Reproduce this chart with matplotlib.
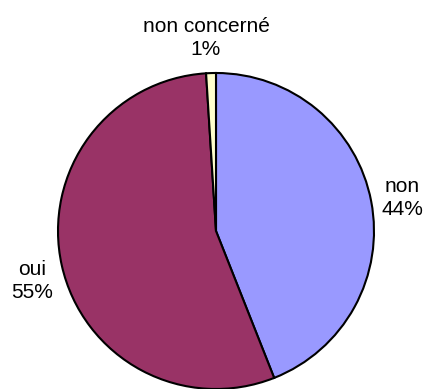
import matplotlib.pyplot as plt

plt.rcParams['font.family'] = ['Liberation Sans', 'DejaVu Sans']

labels = ['non', 'oui', 'non concerné']
values = [44, 55, 1]
colors = ['#9999FF', '#993366', '#FFFFCC']

W, H = 426, 389
fig = plt.figure(figsize=(W / 100, H / 100), dpi=100)

# pie centre and radius in pixels
cx, cy, r = 216, 231, 158
ax = fig.add_axes([(cx - r) / W, (H - cy - r) / H, 2 * r / W, 2 * r / H])
ax.pie(values, colors=colors, startangle=90, counterclock=False,
       wedgeprops=dict(edgecolor='black', linewidth=1.5))
ax.set_xlim(-1, 1)
ax.set_ylim(-1, 1)
ax.set_aspect('equal')
ax.axis('off')

# label positions (pixels, top-left origin)
label_pos = [(402, 198), (32, 281), (206, 38)]
for lab, val, (px, py) in zip(labels, values, label_pos):
    fig.text(px / W, 1 - py / H, f'{lab}\n{val}%', ha='center', va='center',
             fontsize=15, linespacing=1.3)

fig.savefig('out.png', dpi=100)
